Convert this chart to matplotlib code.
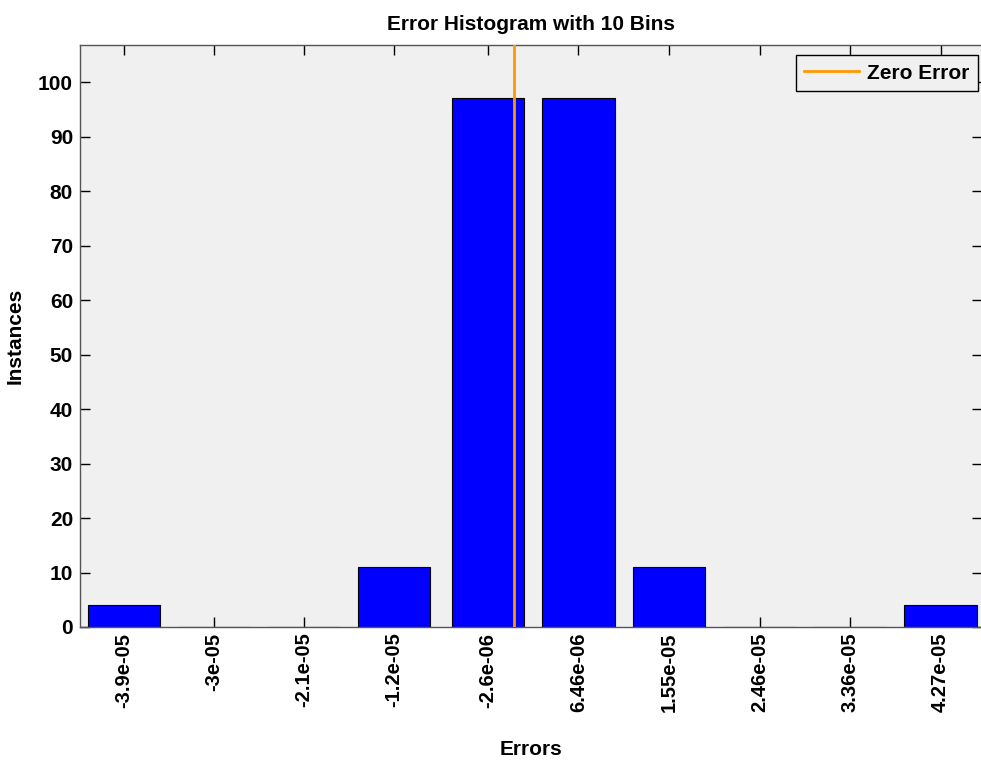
import matplotlib
matplotlib.use("Agg")
import matplotlib.pyplot as plt

plt.rcParams['font.family'] = ['Liberation Sans', 'DejaVu Sans']

bin_centers = [-3.9e-05, -3.0e-05, -2.1e-05, -1.2e-05, -2.6e-06,
               6.46e-06, 1.55e-05, 2.46e-05, 3.36e-05, 4.27e-05]
tick_labels = ['-3.9e-05', '-3e-05', '-2.1e-05', '-1.2e-05', '-2.6e-06',
               '6.46e-06', '1.55e-05', '2.46e-05', '3.36e-05', '4.27e-05']
counts = [4, 0, 0, 11, 97, 97, 11, 0, 0, 4]
zero_error = 0.0

bin_w = (bin_centers[-1] - bin_centers[0]) / (len(bin_centers) - 1)

fig = plt.figure(figsize=(9.81, 7.63), dpi=100)
ax = fig.add_axes([80/981, 1 - 627/763, 1 - 80/981 + 0.0015, (627 - 45)/763])
ax.set_facecolor('#f0f0f0')

ax.bar(bin_centers, counts, width=bin_w * 0.8, color='#0000ff',
       edgecolor='black', linewidth=0.8, zorder=2)
ax.axvline(zero_error, color='#ff9900', linewidth=2, zorder=3, label='Zero Error')

ax.set_xlim(bin_centers[0] - 0.485 * bin_w, bin_centers[-1] + 0.46 * bin_w)
ax.set_ylim(0, 106.8)
ax.set_yticks(range(0, 101, 10))
ax.set_xticks(bin_centers)
ax.set_xticklabels(tick_labels, rotation=90, fontsize=14.5, fontweight='bold')
for lab in ax.get_yticklabels():
    lab.set_fontsize(15)
    lab.set_fontweight('bold')

ax.tick_params(direction='in', length=7, width=1, top=True, right=True, pad=5)
ax.tick_params(axis='x', pad=4)
for s in ax.spines.values():
    s.set_color('#555555')
    s.set_linewidth(1)

ax.set_title('Error Histogram with 10 Bins', fontsize=15, fontweight='bold', pad=11)
ax.set_xlabel('Errors', fontsize=15, fontweight='bold', labelpad=20)
ax.set_ylabel('Instances', fontsize=15, fontweight='bold', labelpad=10)

leg = ax.legend(loc='upper right', bbox_to_anchor=(0.995, 0.983), borderaxespad=0,
                fancybox=False, framealpha=1, edgecolor='black',
                facecolor='#f0f0f0', prop={'size': 15, 'weight': 'bold'},
                handlelength=2.6, handletextpad=0.4, borderpad=0.42)
leg.get_frame().set_linewidth(1)

fig.savefig('out.png', dpi=100)
